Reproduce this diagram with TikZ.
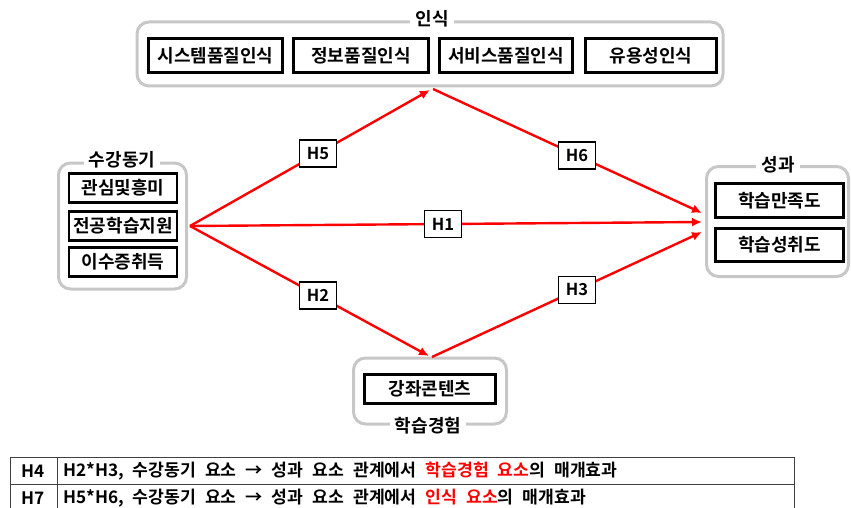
\documentclass[tikz,border=0pt]{standalone}
\usepackage{fontspec}
\setmainfont{Noto Sans CJK KR}[BoldFont={Noto Sans CJK KR Bold}]
\usetikzlibrary{arrows.meta}
\newcommand\tabfnt{\bfseries\fontsize{17.2}{19}\selectfont\spaceskip 9pt\relax}
\begin{document}
\begin{tikzpicture}[x=1pt,y=-1pt,
  grp/.style={draw=black!22, line width=3pt, rounded corners=12pt, inner sep=0pt},
  glabel/.style={fill=white, font=\bfseries\fontsize{18}{20}\selectfont, inner sep=5pt},
  bx/.style={draw=black, line width=2.6pt, font=\bfseries\fontsize{18}{20}\selectfont, inner sep=0pt},
  hb/.style={draw=black, fill=white, line width=1.6pt, minimum width=37pt, minimum height=27pt, inner sep=0pt, font=\bfseries\fontsize{16.5}{18}\selectfont},
  arr/.style={draw=red, line width=2.4pt, -{Latex[length=10pt,width=9pt]}},
  tbl/.style={draw=black!75, line width=0.9pt},
  ttxt/.style={anchor=west, inner sep=0pt, font=\tabfnt},
]
\useasboundingbox (0,0) rectangle (851,508);
\clip (0,0) rectangle (851,508);

% groups
\node[grp, minimum width=586pt, minimum height=64pt] (pg) at (430,54) {};
\node[grp, minimum width=128pt, minimum height=126pt] (lg) at (122.5,226) {};
\node[grp, minimum width=142pt, minimum height=110pt] (rg) at (777.5,221.5) {};
\node[grp, minimum width=153pt, minimum height=66pt] (bg) at (430,391) {};

\node[glabel] (pgl) at (432,19) {인식};
\node[glabel] (lgl) at (122,160) {수강동기};
\node[glabel] (rgl) at (778,165) {성과};
\node[glabel] (bgl) at (428,426) {학습경험};

% boxes
\node[bx, minimum width=134pt, minimum height=34pt] (p1) at (215.5,55.5) {시스템품질인식};
\node[bx, minimum width=135pt, minimum height=34pt] (p2) at (361,55.5) {정보품질인식};
\node[bx, minimum width=133pt, minimum height=34pt] (p3) at (506,55.5) {서비스품질인식};
\node[bx, minimum width=131pt, minimum height=34pt] (p4) at (651,55.5) {유용성인식};

\node[bx, minimum width=108pt, minimum height=29pt] (l1) at (123,188) {관심및흥미};
\node[bx, minimum width=108pt, minimum height=29pt] (l2) at (123,226) {전공학습지원};
\node[bx, minimum width=108pt, minimum height=29pt] (l3) at (123,262) {이수증취득};

\node[bx, minimum width=128pt, minimum height=34pt] (r1) at (779.5,200.5) {학습만족도};
\node[bx, minimum width=128pt, minimum height=33pt] (r2) at (779.5,245) {학습성취도};

\node[bx, minimum width=131pt, minimum height=29pt] (b1) at (430,389) {강좌콘텐츠};

% connection points
\coordinate (s) at (190,226);
\coordinate (tin) at (430,90);
\coordinate (tout) at (433,89);
\coordinate (bin) at (429,356);
\coordinate (bout) at (432,357);
\coordinate (e1) at (702,213);
\coordinate (e2) at (702,222);
\coordinate (e3) at (702,232);

\draw[arr] (s) -- node[hb, pos=0.533] (h5) {H5} (tin);
\draw[arr] (s) -- node[hb, pos=0.494] (h1) {H1} (e2);
\draw[arr] (s) -- node[hb, pos=0.536] (h2) {H2} (bin);
\draw[arr] (tout) -- node[hb, pos=0.535] (h6) {H6} (e1);
\draw[arr] (bout) -- node[hb, pos=0.537] (h3) {H3} (e3);

% table
\draw[tbl] (10,457) -- (794,457);
\draw[tbl] (10,484) -- (794,484);
\draw[tbl] (10,457) -- (10,512);
\draw[tbl] (57,457) -- (57,512);
\draw[tbl] (794,457) -- (794,512);
\node[ttxt, anchor=center] (t4) at (33,471) {H4};
\node[ttxt, anchor=center] (t7) at (33,498) {H7};
\node[ttxt] (r4) at (63,471) {H2*H3, 수강동기 요소 → 성과 요소 관계에서 \textcolor{red}{학습경험 요소}의 매개효과};
\node[ttxt] (r7) at (63,498) {H5*H6, 수강동기 요소 → 성과 요소 관계에서 \textcolor{red}{인식 요소}의 매개효과};
\end{tikzpicture}
\end{document}
